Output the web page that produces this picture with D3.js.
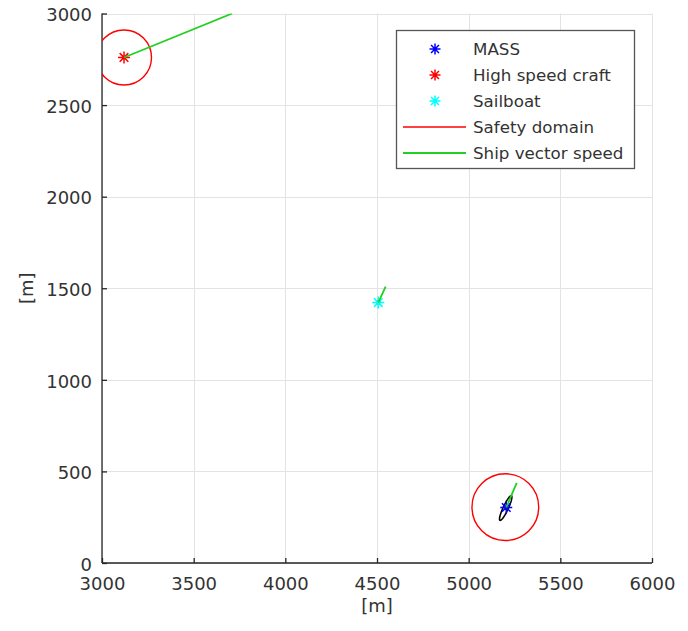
<!DOCTYPE html>
<html><head><meta charset="utf-8">
<script src="https://cdn.jsdelivr.net/npm/d3@7"></script>
<style>body{margin:0;background:#fff}svg{display:block}</style>
</head><body>
<svg id="c" width="688" height="631"></svg>
<script>
// ---- data (metres) ----
const xTicks = [3000,3500,4000,4500,5000,5500,6000];
const yTicks = [0,500,1000,1500,2000,2500,3000];
const ships = [
  {name:"MASS",             x:5205, y:303,  color:"#0000ff"},
  {name:"High speed craft", x:3120, y:2760, color:"#ff0000"},
  {name:"Sailboat",         x:4507, y:1422, color:"#00ffff"}
];
// safety domains: centre and radius
const domains = [
  {x:5200, y:305,  r:182},
  {x:3120, y:2760, r:150},
  {x:4507, y:1422, r:9}
];
// ship speed vectors: start and end
const vectors = [
  {x0:5205, y0:303,  x1:5262, y1:437},
  {x0:3120, y0:2760, x1:3710, y1:3000},
  {x0:4507, y0:1422, x1:4547, y1:1509}
];
// black ellipse around MASS: centre, semi-axes (m), rotation (deg)
const ellipses = [{cx:5202, cy:300, a:74, b:14, angle:65}];
const legendLabels = ["MASS","High speed craft","Sailboat","Safety domain","Ship vector speed"];

// ---- layout ----
const L=102, R=652, T=13.5, B=563;
const svg = d3.select("#c");
const x = d3.scaleLinear().domain([3000,6000]).range([L,R]);
const y = d3.scaleLinear().domain([0,3000]).range([B,T]);
const font = "DejaVu Sans, sans-serif";
const axisCol = "#262626";
const textCol = "#333333";
const green = "#22d022";

svg.append("defs").append("clipPath").attr("id","clip")
  .append("rect").attr("x",L).attr("y",T).attr("width",R-L).attr("height",B-T);

// grid
const grid = svg.append("g").attr("stroke","#e3e3e3").attr("stroke-width",1);
grid.selectAll("line.gx").data(xTicks).join("line")
  .attr("x1",d=>Math.round(x(d))+0.5).attr("x2",d=>Math.round(x(d))+0.5)
  .attr("y1",T).attr("y2",B);
grid.selectAll("line.gy").data(yTicks).join("line")
  .attr("y1",d=>Math.round(y(d))+0.5).attr("y2",d=>Math.round(y(d))+0.5)
  .attr("x1",L).attr("x2",R);

// axes
const xAxis = d3.axisBottom(x).tickValues(xTicks).tickSize(-5).tickPadding(12).tickFormat(d3.format("d"));
const yAxis = d3.axisLeft(y).tickValues(yTicks).tickSize(-5).tickPadding(10).tickFormat(d3.format("d"));
const gx = svg.append("g").attr("transform",`translate(0,${B})`).call(xAxis);
const gy = svg.append("g").attr("transform",`translate(${L},0)`).call(yAxis);
[gx,gy].forEach(g=>{
  g.select(".domain").attr("stroke",axisCol).attr("stroke-width",1.3);
  g.selectAll(".tick line").attr("stroke",axisCol).attr("stroke-width",1.3);
  g.selectAll(".tick text").attr("fill",textCol).attr("font-family",font).attr("font-size",18);
});
gx.selectAll(".tick text").attr("dy","0.85em");
gy.selectAll(".tick text").attr("dy","0.4em");
gx.select(".domain").attr("d",`M${L},0H${R}`);
gy.select(".domain").attr("d",`M0,${B}V${T}`);

// axis labels
svg.append("text").attr("x",(L+R)/2).attr("y",612).attr("text-anchor","middle")
  .attr("font-family",font).attr("font-size",18).attr("fill",textCol).text("[m]");
svg.append("text").attr("transform",`translate(33,${y(1500)}) rotate(-90)`).attr("text-anchor","middle")
  .attr("font-family",font).attr("font-size",18).attr("fill",textCol).text("[m]");

// plot
const plot = svg.append("g").attr("clip-path","url(#clip)");
plot.selectAll("circle.dom").data(domains).join("circle")
  .attr("cx",d=>x(d.x)).attr("cy",d=>y(d.y))
  .attr("r",d=>x(3000+d.r)-x(3000))
  .attr("fill","none").attr("stroke","#ff0000").attr("stroke-width",1.4);

const ell = ellipses.map(e=>{
  const t = e.angle*Math.PI/180, pts=[];
  for(let i=0;i<=72;i++){
    const u=i/72*2*Math.PI;
    const ex=e.a*Math.cos(u), ey=e.b*Math.sin(u);
    pts.push([e.cx+ex*Math.cos(t)-ey*Math.sin(t), e.cy+ex*Math.sin(t)+ey*Math.cos(t)]);
  }
  return pts;
});
plot.selectAll("path.ell").data(ell).join("path")
  .attr("d",d3.line().x(p=>x(p[0])).y(p=>y(p[1])))
  .attr("fill","none").attr("stroke","#000").attr("stroke-width",1.6);

function star(g, cx, cy, col, s){
  const d = s*0.72;
  const p = `M${cx-s},${cy}H${cx+s}M${cx},${cy-s}V${cy+s}M${cx-d},${cy-d}L${cx+d},${cy+d}M${cx-d},${cy+d}L${cx+d},${cy-d}`;
  g.append("path").attr("d",p).attr("stroke",col).attr("stroke-width",1.5).attr("fill","none");
}
ships.forEach(s=>star(plot, x(s.x), y(s.y), s.color, 6));

plot.selectAll("line.vec").data(vectors).join("line")
  .attr("x1",d=>x(d.x0)).attr("y1",d=>y(d.y0)).attr("x2",d=>x(d.x1)).attr("y2",d=>y(d.y1))
  .attr("stroke",green).attr("stroke-width",1.8);

// legend
const lg = svg.append("g");
lg.append("rect").attr("x",396.5).attr("y",30.5).attr("width",238).attr("height",138)
  .attr("fill","#fff").attr("stroke","#555").attr("stroke-width",1.3);
const rowY = i => 49 + 26*i;
legendLabels.forEach((lab,i)=>{
  const yy = rowY(i);
  if(i<3) star(lg, 435, yy, ships[i].color, 5.5);
  else lg.append("line").attr("x1",403).attr("x2",466).attr("y1",yy).attr("y2",yy)
     .attr("stroke", i===3 ? "#ff0000" : green).attr("stroke-width", i===3?1.4:1.8);
  lg.append("text").attr("x",473).attr("y",yy).attr("dy","0.36em")
    .attr("font-family",font).attr("font-size",16.7).attr("fill",textCol).text(lab);
});
</script>
</body></html>
